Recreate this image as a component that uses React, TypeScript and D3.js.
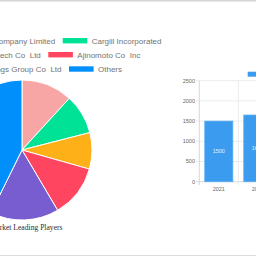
import { useEffect, useRef } from 'react';
import * as d3 from 'd3';

// pie: leading players share (%)
const players = [
  'Fufeng Group Company Limited',
  'Cargill Incorporated',
  'Ningxia Eppen Biotech Co  Ltd',
  'Ajinomoto Co  Inc',
  'Meihua Holdings Group Co  Ltd',
  'Others',
];
const shares = [11.8, 9.2, 8.4, 12.1, 15.8, 42.7];
const pieColors = ['#F8A5A5', '#00E396', '#FEB019', '#FF4560', '#775DD0', '#008FFB'];

// bar: market size by year
const years = ['2021', '2022'];
const sizes = [1500, 1650];
const yTicks = [0, 500, 1000, 1500, 2000, 2500];

const W = 256;
const H = 256;

const App = () => {
  const svgRef = useRef<SVGSVGElement>(null);

  useEffect(() => {
    const svg = d3.select(svgRef.current);
    svg.selectAll('*').remove();

    // frame lines
    svg.append('line').attr('x1', 0).attr('x2', W).attr('y1', 0.5).attr('y2', 0.5)
      .attr('stroke', '#d4d4d4').attr('stroke-width', 2);
    svg.append('line').attr('x1', 0).attr('x2', W).attr('y1', 255.5).attr('y2', 255.5)
      .attr('stroke', '#dcdcdc');

    // ---- pie legend (rows centered, left items cut off)
    const rowY = [40.7, 54.7, 69];
    const rowBoxX = [62.7, 48.3, 69];
    const legend = svg.append('g').attr('font-family', 'Liberation Sans, Arial, sans-serif')
      .attr('font-size', 8).attr('fill', '#737373');
    for (let r = 0; r < 3; r++) {
      const left = r * 2;
      const right = r * 2 + 1;
      const bx = rowBoxX[r];
      const cy = rowY[r];
      // left item
      legend.append('text').attr('x', bx - 7.5).attr('y', cy).attr('dy', '0.35em')
        .attr('text-anchor', 'end').style('white-space', 'pre').text(players[left]);
      // right item
      legend.append('rect').attr('x', bx).attr('y', cy - 2.7).attr('width', 24.6).attr('height', 5.4)
        .attr('fill', pieColors[right]);
      legend.append('text').attr('x', bx + 29).attr('y', cy).attr('dy', '0.35em')
        .style('white-space', 'pre').text(players[right]);
    }

    // ---- pie
    const pie = d3.pie<number>().value(d => d).sort(null);
    const arc = d3.arc<d3.PieArcDatum<number>>().innerRadius(0).outerRadius(70);
    const pg = svg.append('g').attr('transform', 'translate(22,150)');
    pg.selectAll('path')
      .data(pie(shares))
      .enter().append('path')
      .attr('d', arc)
      .attr('fill', (d, i) => pieColors[i])
      .attr('stroke', '#fff')
      .attr('stroke-width', 1);

    svg.append('text')
      .attr('x', 62.5).attr('y', 229.5)
      .attr('text-anchor', 'end')
      .attr('font-family', 'Liberation Serif, Times New Roman, serif')
      .attr('font-size', 7.6)
      .attr('fill', '#2b2b2b')
      .text('Lysine Market Leading Players');

    // ---- bar chart
    const x = d3.scaleBand().domain(years).range([199.3, 199.3 + 39 * years.length]).padding(0);
    const y = d3.scaleLinear().domain([0, 2500]).range([181.7, 80.7]);
    const bw = x.bandwidth() * 0.72;
    const bg = svg.append('g').attr('font-family', 'Liberation Sans, Arial, sans-serif').attr('font-size', 5.5);

    // horizontal grid + y labels
    yTicks.forEach(t => {
      bg.append('line').attr('x1', 196).attr('x2', W).attr('y1', y(t)).attr('y2', y(t))
        .attr('stroke', t === 0 ? '#d8d8d8' : '#ececec').attr('stroke-width', 1);
      bg.append('text').attr('x', 195).attr('y', y(t)).attr('dy', '0.35em')
        .attr('text-anchor', 'end').attr('fill', '#666').text(t);
    });
    // vertical grid at category edges
    const edges = years.map(d => x(d) as number);
    edges.forEach((e, i) => {
      bg.append('line').attr('x1', e).attr('x2', e).attr('y1', 80.7).attr('y2', 185)
        .attr('stroke', i === 0 ? '#d8d8d8' : '#ececec');
    });

    bg.selectAll('rect.bar')
      .data(sizes)
      .enter().append('rect')
      .attr('class', 'bar')
      .attr('x', (d, i) => (x(years[i]) as number) + (x.bandwidth() - bw) / 2)
      .attr('y', d => y(d))
      .attr('width', bw)
      .attr('height', d => y(0) - y(d))
      .attr('fill', '#3a9bef')
      .attr('stroke', '#5aaef3')
      .attr('stroke-width', 0.8);

    bg.selectAll('text.val')
      .data(sizes)
      .enter().append('text')
      .attr('class', 'val')
      .attr('x', (d, i) => (x(years[i]) as number) + x.bandwidth() / 2)
      .attr('y', d => (y(d) + y(0)) / 2)
      .attr('dy', '0.35em')
      .attr('text-anchor', 'middle')
      .attr('fill', '#e8f2fd')
      .text(d => d);

    bg.selectAll('text.year')
      .data(years)
      .enter().append('text')
      .attr('class', 'year')
      .attr('x', d => (x(d) as number) + x.bandwidth() / 2)
      .attr('y', 189.5)
      .attr('dy', '0.35em')
      .attr('text-anchor', 'middle')
      .attr('fill', '#666')
      .text(d => d);

    // bar legend box (label runs off the right edge)
    bg.append('rect').attr('x', 247.7).attr('y', 71.7).attr('width', 20).attr('height', 5)
      .attr('fill', '#3a9bef');
    bg.append('text').attr('x', 271).attr('y', 74.2).attr('dy', '0.35em').attr('fill', '#666')
      .text('Market Size');
  }, []);

  return (
    <svg ref={svgRef} width={W} height={H}
      style={{ position: 'absolute', left: 0, top: 0, background: '#fff' }} />
  );
};

export default App;
